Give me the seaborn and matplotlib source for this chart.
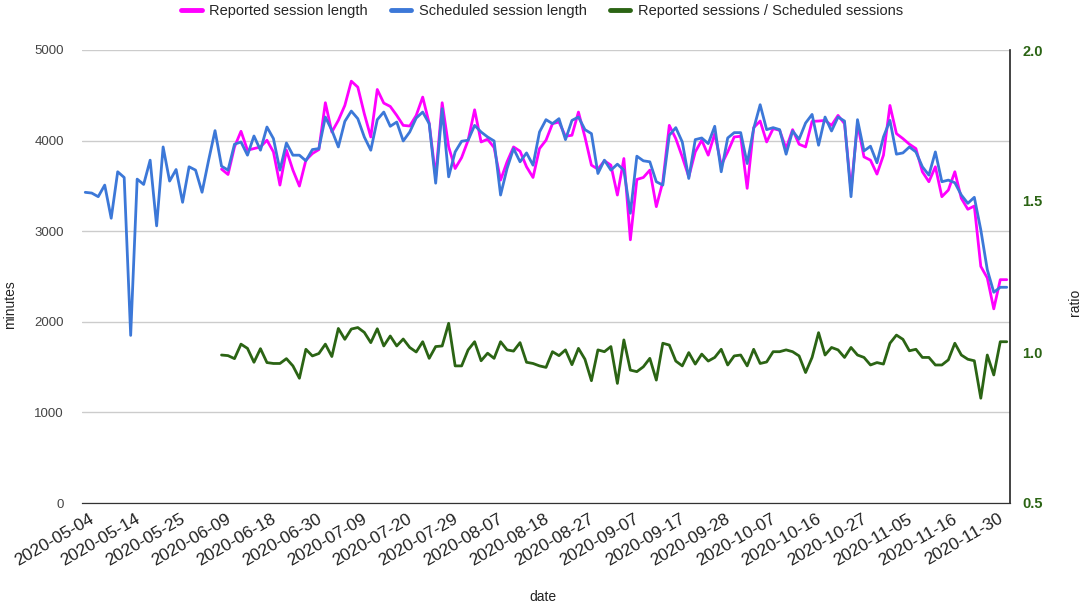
import numpy as np
import pandas as pd
import matplotlib
matplotlib.use("Agg")
import matplotlib.pyplot as plt
import matplotlib.transforms as mtransforms
from matplotlib.lines import Line2D
import seaborn as sns

# x-axis labels (every 7th session date)
tick_labels = ['2020-05-04', '2020-05-14', '2020-05-25', '2020-06-09', '2020-06-18',
               '2020-06-30', '2020-07-09', '2020-07-20', '2020-07-29', '2020-08-07',
               '2020-08-18', '2020-08-27', '2020-09-07', '2020-09-17', '2020-09-28',
               '2020-10-07', '2020-10-16', '2020-10-27', '2020-11-05', '2020-11-16',
               '2020-11-30']

# minutes
scheduled_len = [3429, 3421, 3381, 3509, 3143, 3656, 3593, 1850, 3575, 3516,
                 3784, 3059, 3930, 3553, 3681, 3319, 3711, 3674, 3430, 3780,
                 4110, 3718, 3674, 3960, 3985, 3839, 4051, 3894, 4150, 4022,
                 3674, 3974, 3839, 3839, 3777, 3901, 3912, 4260, 4114, 3930,
                 4212, 4326, 4242, 4040, 3894, 4231, 4315, 4158, 4205, 3996,
                 4095, 4249, 4315, 4187, 3530, 4352, 3600, 3875, 3993, 4004,
                 4168, 4095, 4040, 3996, 3399, 3692, 3912, 3766, 3864, 3729,
                 4095, 4231, 4187, 4242, 4011, 4223, 4260, 4121, 4077, 3637,
                 3784, 3674, 3740, 3674, 3198, 3828, 3777, 3766, 3546, 3509,
                 4059, 4143, 3985, 3582, 4011, 4029, 3967, 4158, 3656, 4029,
                 4088, 4088, 3747, 4132, 4396, 4121, 4143, 4121, 3850, 4106,
                 4015, 4194, 4289, 3949, 4260, 4106, 4260, 4216, 3381, 4231,
                 3886, 3938, 3755, 4040, 4223, 3850, 3864, 3930, 3875, 3711,
                 3619, 3875, 3546, 3564, 3535, 3399, 3308, 3374, 3015, 2575,
                 2326, 2381, 2381]

# reporting begins at the 22nd session date
reported_start = 21
reported_len = [3685, 3626, 3930, 4103, 3894, 3912, 3930, 4004, 3875,
                3509, 3894, 3674, 3498, 3784, 3857, 3901, 4418, 4095, 4223,
                4388, 4656, 4590, 4297, 4040, 4564, 4414, 4377, 4278, 4168,
                4161, 4278, 4480, 4190, 3600, 4418, 3930, 3692, 3813, 4004,
                4340, 3985, 4015, 3923, 3564, 3766, 3930, 3883, 3711, 3593,
                3912, 4004, 4187, 4205, 4048, 4059, 4315, 4040, 3729, 3685,
                3777, 3729, 3399, 3802, 2905, 3571, 3593, 3674, 3271, 3545,
                4168, 4022, 3820, 3600, 3875, 4004, 3839, 4077, 3729, 3875,
                4040, 4048, 3473, 4143, 4216, 3985, 4132, 4114, 3912, 4121,
                3960, 3930, 4212, 4216, 4223, 4168, 4278, 4187, 3450, 4187,
                3820, 3784, 3630, 3839, 4388, 4077, 4022, 3960, 3912, 3656,
                3546, 3711, 3381, 3454, 3656, 3363, 3242, 3278, 2612, 2484,
                2143, 2465, 2465]

session_ratio = [0.990, 0.988, 0.978, 1.026, 1.012, 0.966, 1.011, 0.965, 0.962,
                 0.962, 0.978, 0.954, 0.913, 1.009, 0.987, 0.995, 1.026, 0.985, 1.078,
                 1.042, 1.076, 1.081, 1.065, 1.031, 1.077, 1.020, 1.053, 1.020, 1.043,
                 1.015, 1.000, 1.034, 0.979, 1.018, 1.020, 1.095, 0.954, 0.954, 1.007,
                 1.034, 0.971, 0.996, 0.979, 1.034, 1.007, 1.003, 1.031, 0.966, 0.962,
                 0.954, 0.949, 1.001, 0.988, 1.007, 0.958, 1.012, 0.976, 0.905, 1.007,
                 1.001, 1.018, 0.896, 1.040, 0.940, 0.935, 0.951, 0.979, 0.907, 1.029,
                 1.023, 0.970, 0.954, 0.998, 0.960, 0.993, 0.970, 0.982, 1.009, 0.957,
                 0.987, 0.990, 0.954, 1.009, 0.962, 0.967, 1.001, 1.001, 1.007, 1.001,
                 0.987, 0.932, 0.982, 1.064, 0.990, 1.015, 1.007, 0.982, 1.015, 0.990,
                 0.982, 0.957, 0.965, 0.960, 1.029, 1.056, 1.042, 1.004, 1.009, 0.982,
                 0.982, 0.957, 0.957, 0.974, 1.029, 0.990, 0.976, 0.971, 0.847, 0.990,
                 0.924, 1.034, 1.034]

MAGENTA = '#ff00ff'
BLUE = '#3c78d8'
GREEN = '#2b6414'

sns.set_style("white")
plt.rcParams['font.family'] = ['Liberation Sans', 'DejaVu Sans']

df = pd.DataFrame({'day': np.arange(len(scheduled_len)), 'scheduled': scheduled_len})
df['reported'] = np.nan
df.loc[reported_start:, 'reported'] = reported_len
df['ratio'] = np.nan
df.loc[reported_start:, 'ratio'] = session_ratio

fig = plt.figure(figsize=(10.84, 6.06), dpi=100)
ax = fig.add_axes([82 / 1084, 1 - 503 / 606, 928 / 1084, 453 / 606])

sns.lineplot(data=df, x='day', y='reported', ax=ax, color=MAGENTA, lw=2, legend=False)
sns.lineplot(data=df, x='day', y='scheduled', ax=ax, color=BLUE, lw=2, legend=False)

ax.set_xlim(-0.5, len(scheduled_len) - 0.5)
ax.set_ylim(0, 5000)
ax.set_yticks(range(0, 5001, 1000))
ax.tick_params(axis='y', length=0, pad=13, labelsize=9.5, labelcolor='#444444')
ax.grid(axis='y', color='#cccccc', lw=1)
ax.set_axisbelow(True)

tick_pos = df['day'].iloc[::7]
ax.set_xticks(tick_pos)
ax.set_xticklabels(tick_labels, rotation=30, ha='right', rotation_mode='anchor')
ax.tick_params(axis='x', length=0, pad=6, labelsize=12.5, labelcolor='#222222')
shift = mtransforms.ScaledTranslation(4 / 100, 0, fig.dpi_scale_trans)
for lab in ax.get_xticklabels():
    lab.set_transform(lab.get_transform() + shift)
ax.set_xlabel('')
ax.set_ylabel('')

ax2 = ax.twinx()
sns.lineplot(data=df, x='day', y='ratio', ax=ax2, color=GREEN, lw=2, legend=False)
ax2.set_ylim(0.5, 2.0)
ax2.set_yticks([0.5, 1.0, 1.5, 2.0])
ax2.set_yticklabels(['0.5', '1.0', '1.5', '2.0'], fontweight='bold')
ax2.tick_params(axis='y', length=0, pad=9, labelsize=10.5, labelcolor=GREEN)
ax2.set_ylabel('')
ax2.set_xlabel('')

for a in (ax, ax2):
    for side in ('top', 'left', 'right'):
        a.spines[side].set_visible(False)
    a.spines['bottom'].set_color('#333333')
ax2.spines['right'].set_visible(True)
ax2.spines['right'].set_color('#222222')
ax2.spines['right'].set_linewidth(1.2)

fig.text(10 / 1084, 1 - 305 / 606, 'minutes', rotation=90, ha='center', va='center',
         fontsize=10, color='#222222')
fig.text(1075 / 1084, 1 - 302 / 606, 'ratio', rotation=90, ha='center', va='center',
         fontsize=10, color='#222222')
fig.text(543 / 1084, 1 - 597 / 606, 'date', ha='center', va='center',
         fontsize=10, color='#222222')

handles = [Line2D([], [], color=MAGENTA, lw=3.5),
           Line2D([], [], color=BLUE, lw=3.5),
           Line2D([], [], color=GREEN, lw=3.5)]
names = ['Reported session length', 'Scheduled session length',
         'Reported sessions / Scheduled sessions']
fig.legend(handles, names, loc='center', bbox_to_anchor=(0.5, 1 - 11 / 606), ncol=3,
           frameon=False, fontsize=10.5, handlelength=1.4, handletextpad=0.5,
           columnspacing=1.6)

fig.savefig('out.png', dpi=100)
